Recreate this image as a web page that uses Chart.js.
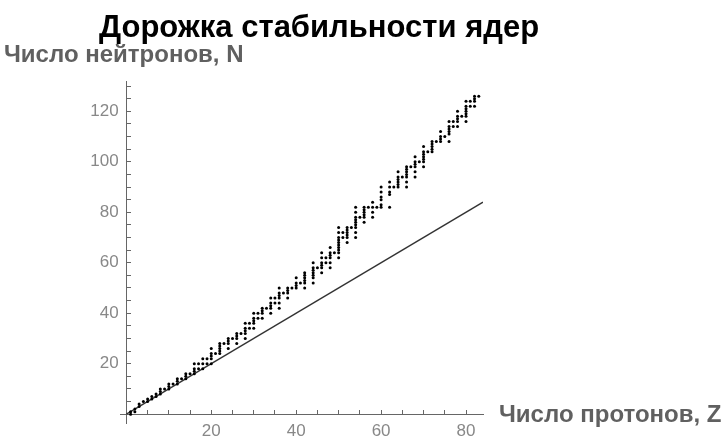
<!DOCTYPE html>
<html>
<head>
<meta charset="utf-8">
<script src="https://cdn.jsdelivr.net/npm/chart.js@4/dist/chart.umd.min.js"></script>
<style>
  html, body { margin: 0; padding: 0; background: #fff; }
  #wrap { width: 722px; height: 438px; position: relative; }
</style>
</head>
<body>
<div id="wrap"><canvas id="valleyChart" width="722" height="438"></canvas></div>
<script>
// Stable nuclides: proton number Z and the neutron numbers N of its stable isotopes
const protons = [];
for (let z = 1; z <= 83; z++) protons.push(z);
const neutrons = [
  [0, 1], [1, 2], [3, 4], [5], [5, 6], [6, 7], [7, 8], [8, 9, 10], [10], [10, 11, 12],
  [12], [12, 13, 14], [14], [14, 15, 16], [16], [16, 17, 18, 20], [18, 20], [18, 20, 22], [20, 22], [20, 22, 23, 24, 26],
  [24], [24, 25, 26, 27, 28], [28], [26, 28, 29, 30], [30], [28, 30, 31, 32], [32], [30, 32, 33, 34, 36], [34, 36], [34, 36, 37, 38, 40],
  [38, 40], [38, 40, 41, 42], [42], [40, 42, 43, 44, 46], [44, 46], [42, 44, 46, 47, 48, 50], [48], [46, 48, 49, 50], [50], [50, 51, 52, 54],
  [52], [50, 52, 53, 54, 55, 56], [], [52, 54, 55, 56, 57, 58, 60], [58], [56, 58, 59, 60, 62, 64], [60, 62], [58, 60, 62, 63, 64, 66], [64], [62, 64, 65, 66, 67, 68, 69, 70, 72, 74],
  [70, 72], [68, 70, 71, 72, 73, 74], [74], [70, 72, 74, 75, 76, 77, 78, 80, 82], [78], [76, 78, 79, 80, 81, 82], [82], [78, 80, 82, 84], [82], [82, 83, 85, 86, 88, 90],
  [], [82, 87, 88, 90, 92], [90], [90, 91, 92, 93, 94, 96], [94], [90, 92, 94, 95, 96, 97, 98], [98], [94, 96, 98, 99, 100, 102], [100], [98, 100, 101, 102, 103, 104, 106],
  [104], [104, 105, 106, 107, 108], [108], [108, 109, 110, 112], [110], [108, 111, 112, 113, 114, 116], [114, 116], [114, 116, 117, 118, 120], [118], [116, 118, 119, 120, 121, 122, 124],
  [122, 124], [122, 124, 125, 126], [126]
];
// reference line N = Z
const lineZ = [0, 84];
const lineN = [0, 84];

const nuclidePoints = [];
protons.forEach((z, i) => {
  neutrons[i].forEach(n => nuclidePoints.push({ x: z, y: n }));
});
const linePoints = lineZ.map((z, i) => ({ x: z, y: lineN[i] }));

// texts outside the plot area
const labelsPlugin = {
  id: 'labels',
  afterDraw(chart) {
    const ctx = chart.ctx;
    ctx.save();
    ctx.textBaseline = 'alphabetic';
    ctx.textAlign = 'left';
    ctx.fillStyle = '#000';
    ctx.font = 'bold 31px "Liberation Sans", Arial, sans-serif';
    ctx.fillText('Дорожка стабильности ядер', 99, 37);
    ctx.fillStyle = '#606060';
    ctx.font = 'bold 24px "Liberation Sans", Arial, sans-serif';
    ctx.fillText('Число нейтронов, N', 4, 62);
    ctx.fillText('Число протонов, Z', 499, 422);
    ctx.restore();
  }
};

const tickFont = { family: '"Liberation Sans", Arial, sans-serif', size: 17 };

const ctx = document.getElementById('valleyChart').getContext('2d');
const valleyChart = new Chart(ctx, {
  type: 'scatter',
  data: {
    datasets: [{
      label: 'Стабильные ядра',
      data: nuclidePoints,
      backgroundColor: '#000',
      borderWidth: 0,
      pointRadius: 1.5,
      pointHoverRadius: 1.5
    }, {
      label: 'N = Z',
      type: 'line',
      data: linePoints,
      borderColor: '#333',
      borderWidth: 1.3,
      pointRadius: 0,
      fill: false
    }]
  },
  options: {
    responsive: false,
    animation: false,
    layout: { padding: { left: 120, right: 239, top: 81, bottom: 15 } },
    plugins: {
      legend: { display: false },
      tooltip: { enabled: false }
    },
    scales: {
      x: {
        type: 'linear',
        position: { y: 0 },
        min: -1.5,
        max: 84,
        afterFit: s => { s.height = 0; },
        border: { color: '#666', width: 1 },
        grid: { drawOnChartArea: false, drawTicks: true, tickLength: -5, color: '#666' },
        ticks: {
          stepSize: 5,
          includeBounds: false,
          padding: 12,
          color: '#888',
          font: tickFont,
          maxRotation: 0,
          autoSkip: false,
          callback: v => (v > 0 && v % 20 === 0) ? v : ''
        }
      },
      y: {
        type: 'linear',
        position: { x: 0 },
        min: -3.5,
        max: 132,
        afterFit: s => { s.width = 0; },
        border: { color: '#666', width: 1 },
        grid: { drawOnChartArea: false, drawTicks: true, tickLength: -5, color: '#666' },
        ticks: {
          stepSize: 5,
          includeBounds: false,
          color: '#888',
          font: tickFont,
          autoSkip: false,
          // labels sit left of the axis line; trailing spaces give the gap
          callback: v => (v > 0 && v % 20 === 0) ? v + '\u2005\u2009' : ''
        }
      }
    }
  },
  plugins: [labelsPlugin]
});
</script>
</body>
</html>
